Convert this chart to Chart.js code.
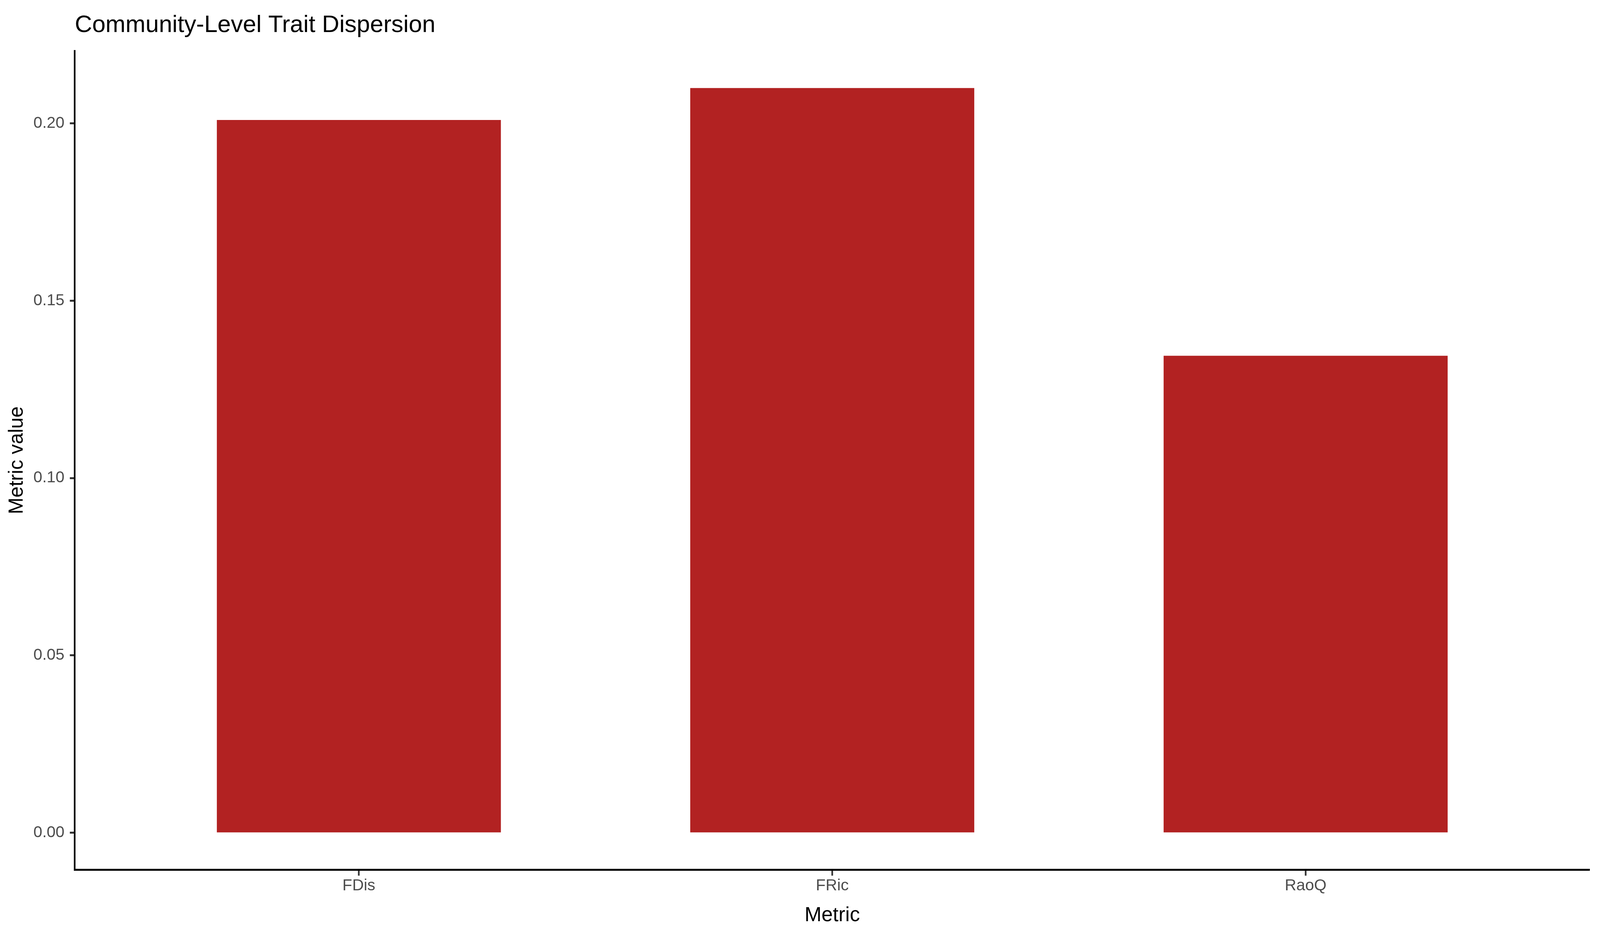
<!DOCTYPE html>
<html>
<head>
<meta charset="utf-8">
<title>Community-Level Trait Dispersion</title>
<script src="https://cdn.jsdelivr.net/npm/chart.js@4.4.1/dist/chart.umd.min.js"></script>
<style>
  html, body { margin: 0; padding: 0; background: #fff; overflow: hidden; }
  #wrap { position: relative; width: 100vw; height: 100vh; }
</style>
</head>
<body>
<div id="wrap"><canvas id="traitChart"></canvas></div>
<script>
var metrics = ["FDis", "FRic", "RaoQ"];
var metricValues = [0.201, 0.210, 0.1345];
var yTicks = [0, 0.05, 0.10, 0.15, 0.20];
var chartTitle = "Community-Level Trait Dispersion";

var fontFamily = "'Liberation Sans', Arial, sans-serif";

// sizes below are measured on a 4800x2400 picture, scaled to the real viewport
var wrap = document.getElementById("wrap");
var S = (wrap.clientWidth || 4800) / 4800;
var SY = (wrap.clientHeight || 2400) / 2400;
function sx(v) { return v * S; }
function sy(v) { return v * SY; }

// ggplot-style title, left aligned with the panel
var titlePlugin = {
  id: 'plotTitle',
  afterDraw: function (chart) {
    var c = chart.ctx;
    c.save();
    c.font = sx(72) + "px " + fontFamily;
    c.fillStyle = "#000";
    c.textAlign = "left";
    c.textBaseline = "alphabetic";
    c.fillText(chartTitle, chart.chartArea.left, sy(82));
    c.restore();
  }
};

var ctx = document.getElementById("traitChart");

var traitChart = new Chart(ctx, {
  type: 'bar',
  data: {
    datasets: [{
      label: "Metric value",
      data: metricValues.map(function (v, i) { return { x: i, y: v }; }),
      backgroundColor: "#B22222",
      borderWidth: 0,
      categoryPercentage: 1,
      barPercentage: 0.6
    }]
  },
  options: {
    responsive: true,
    maintainAspectRatio: false,
    animation: false,
    layout: { padding: { top: sy(130), right: sx(31), bottom: 0, left: 0 } },
    plugins: {
      legend: { display: false },
      tooltip: { enabled: false },
      title: { display: false }
    },
    scales: {
      x: {
        type: 'linear',
        min: -0.6,
        max: 2.6,
        offset: false,
        afterBuildTicks: function (scale) {
          scale.ticks = metrics.map(function (m, i) { return { value: i }; });
        },
        afterFit: function (scale) { scale.height = sy(2400 - 2225.5); },
        ticks: {
          callback: function (v) { return metrics[v]; },
          color: "#4d4d4d",
          font: { family: fontFamily, size: sx(48) },
          padding: sy(2),
          maxRotation: 0,
          autoSkip: false
        },
        grid: {
          offset: false,
          drawOnChartArea: false,
          drawTicks: true,
          tickLength: sy(15),
          tickWidth: sx(5),
          tickColor: "#333333"
        },
        border: { display: true, color: "#000", width: sy(5) },
        title: {
          display: true,
          text: "Metric",
          color: "#000",
          font: { family: fontFamily, size: sx(61) },
          padding: { top: 0, bottom: sy(26) }
        }
      },
      y: {
        min: -0.0105,
        max: 0.2205,
        afterBuildTicks: function (scale) {
          scale.ticks = yTicks.map(function (v) { return { value: v }; });
        },
        afterFit: function (scale) { scale.width = sx(224.5); },
        ticks: {
          callback: function (v) { return Number(v).toFixed(2); },
          color: "#4d4d4d",
          font: { family: fontFamily, size: sx(48) },
          padding: sx(16)
        },
        grid: {
          drawOnChartArea: false,
          drawTicks: true,
          tickLength: sx(15),
          tickWidth: sy(5),
          tickColor: "#333333"
        },
        border: { display: true, color: "#000", width: sx(5) },
        title: {
          display: true,
          text: "Metric value",
          color: "#000",
          font: { family: fontFamily, size: sx(60) },
          padding: { top: sx(16), bottom: 0 }
        }
      }
    }
  },
  plugins: [titlePlugin]
});
</script>
</body>
</html>
